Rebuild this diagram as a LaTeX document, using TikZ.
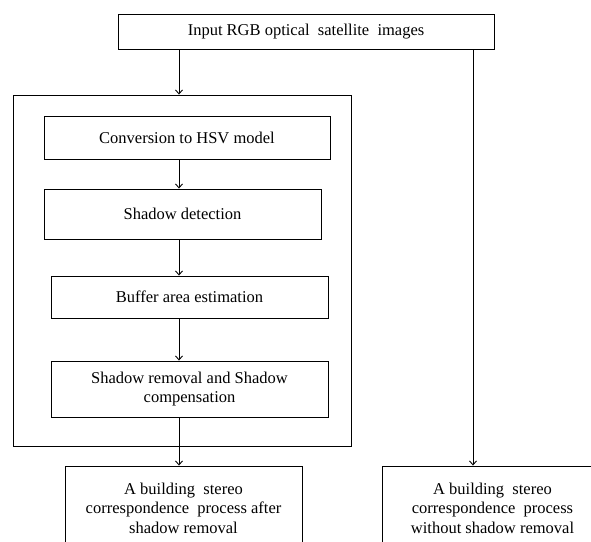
\documentclass[tikz,border=0pt]{standalone}
\usepackage{fontspec}
\setmainfont{Liberation Serif}
\usetikzlibrary{arrows.meta,positioning}
\begin{document}
\begin{tikzpicture}[x=1pt,y={(0pt,-1pt)},
  box/.style={draw=black,line width=0.9pt,inner sep=0pt,align=center,
    font=\fontsize{16.5}{19.5}\selectfont},
  arr/.style={draw=black,line width=0.9pt,-{Straight Barb[length=4pt,width=7pt]}},
  ln/.style={draw=black,line width=0.9pt}]
\useasboundingbox (0,0) rectangle (591,541);
\clip (0,0) rectangle (591,541);
\node[box,minimum width=376pt,minimum height=35pt] (top) at (306,31.5) {Input RGB optical\ \ satellite\ \ images};
\node[box,minimum width=338pt,minimum height=351pt] (outer) at (182,270.5) {};
\node[box,minimum width=286pt,minimum height=43pt] (conv) at (187,137.5) {Conversion to HSV model};
\node[box,minimum width=277pt,minimum height=50pt] (det) at (182.5,214) {Shadow detection};
\node[box,minimum width=277pt,minimum height=42pt] (buf) at (189.5,297) {Buffer area estimation};
\node[box,minimum width=277pt,minimum height=56pt] (rem) at (189.5,389) {Shadow removal and Shadow\\compensation};
\node[box,minimum width=237pt,minimum height=84pt] (bl) at (183.5,508) {A building\ \ stereo\\correspondence\ \ process after\\shadow removal};
\node[box,minimum width=221pt,minimum height=84pt] (br) at (492.5,508) {A building\ \ stereo\\correspondence\ \ process\\without shadow removal};
\coordinate (ax) at (179,0);
\coordinate (bx) at (473,0);
\draw[arr] (top.south -| ax) -- (outer.north -| ax);
\draw[arr] (conv.south -| ax) -- (det.north -| ax);
\draw[arr] (det.south -| ax) -- (buf.north -| ax);
\draw[arr] (buf.south -| ax) -- (rem.north -| ax);
\draw[arr] (rem.south -| ax) -- (bl.north -| ax);
\draw[arr] (top.south -| bx) -- (br.north -| bx);
\end{tikzpicture}
\end{document}
